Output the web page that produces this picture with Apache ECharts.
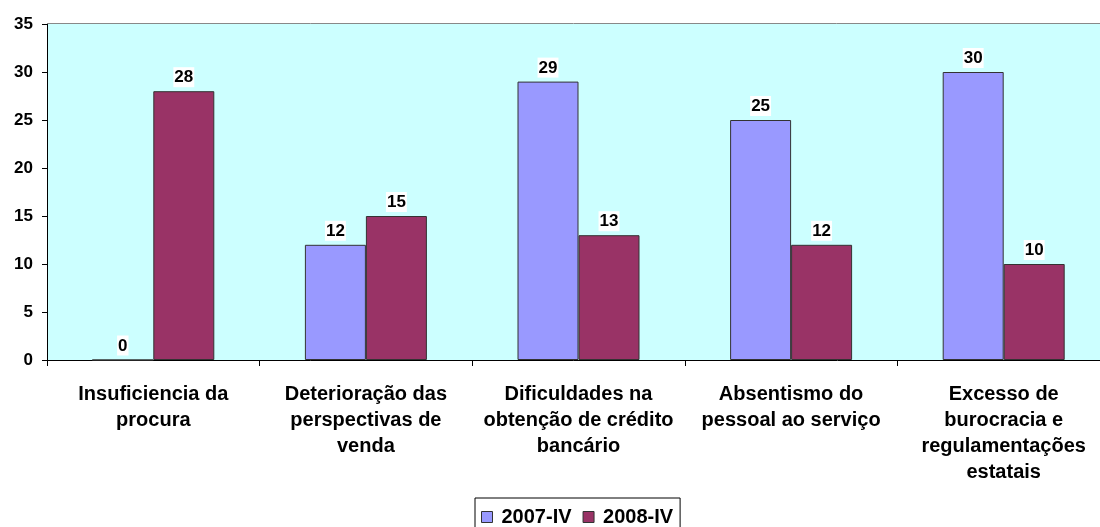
<!DOCTYPE html>
<html><head><meta charset="utf-8">
<script src="https://cdn.jsdelivr.net/npm/echarts@6/dist/echarts.min.js"></script>
<style>html,body{margin:0;padding:0;background:#fff}#c{width:1100px;height:527px}</style>
</head><body><div id="c"></div>
<script>
const categories = ["Insuficiencia da\nprocura", "Deterioração das\nperspectivas de\nvenda", "Dificuldades na\nobtenção de crédito\nbancário", "Absentismo do\npessoal ao serviço", "Excesso de\nburocracia e\nregulamentações\nestatais"];
const s2007 = [0, 12, 29, 25, 30];
const s2008 = [28, 15, 13, 12, 10];
const seriesNames = ["2007-IV", "2008-IV"];

const chart = echarts.init(document.getElementById('c'), null, {renderer: 'canvas'});
const font = '"Liberation Sans", Arial, sans-serif';
const lbl = {show: true, position: 'top', distance: 4, color: '#000', fontFamily: font, fontWeight: 'bold', fontSize: 17, backgroundColor: '#fff', padding: [2, 1, 1, 1]};
chart.setOption({
  animation: false,
  grid: {left: 47, right: -10, top: 24, bottom: 167, outerBoundsMode: 'none', containLabel: false, show: true, backgroundColor: '#CCFFFF', borderColor: '#888', borderWidth: 0},
  legend: {
    data: seriesNames, top: 498, left: 475, padding: [9, 7, 10, 6], itemGap: 11,
    itemWidth: 11, itemHeight: 11, borderColor: '#000', borderWidth: 1,
    textStyle: {fontFamily: font, fontWeight: 'bold', fontSize: 20, color: '#000', padding: [0, 0, 0, 4]},
    icon: 'rect',
    itemStyle: {borderColor: '#333', borderWidth: 1}
  },
  xAxis: {
    type: 'category', data: categories,
    axisLine: {lineStyle: {color: '#000', width: 1}},
    axisTick: {show: true, length: 6, lineStyle: {color: '#000'}},
    axisLabel: {interval: 0, margin: 21, color: '#000', fontFamily: font, fontWeight: 'bold', fontSize: 20, lineHeight: 26}
  },
  yAxis: {
    type: 'value', min: 0, max: 35, interval: 5,
    splitLine: {show: false},
    axisLine: {show: true, lineStyle: {color: '#000', width: 1}},
    axisTick: {show: true, length: 5, lineStyle: {color: '#000'}},
    axisLabel: {margin: 14, color: '#000', fontFamily: font, fontWeight: 'bold', fontSize: 17}
  },
  graphic: [{type: 'line', shape: {x1: 47, y1: 23.5, x2: 1100, y2: 23.5}, style: {stroke: '#888', lineWidth: 1}, z: 10}],
  series: [
    {name: seriesNames[0], type: 'bar', data: s2007, barWidth: 61, barGap: '0%',
     itemStyle: {color: '#9999FF', borderColor: '#333', borderWidth: 1}, label: lbl},
    {name: seriesNames[1], type: 'bar', data: s2008, barWidth: 61, barGap: '0%',
     itemStyle: {color: '#993366', borderColor: '#333', borderWidth: 1}, label: lbl}
  ]
});
</script></body></html>
